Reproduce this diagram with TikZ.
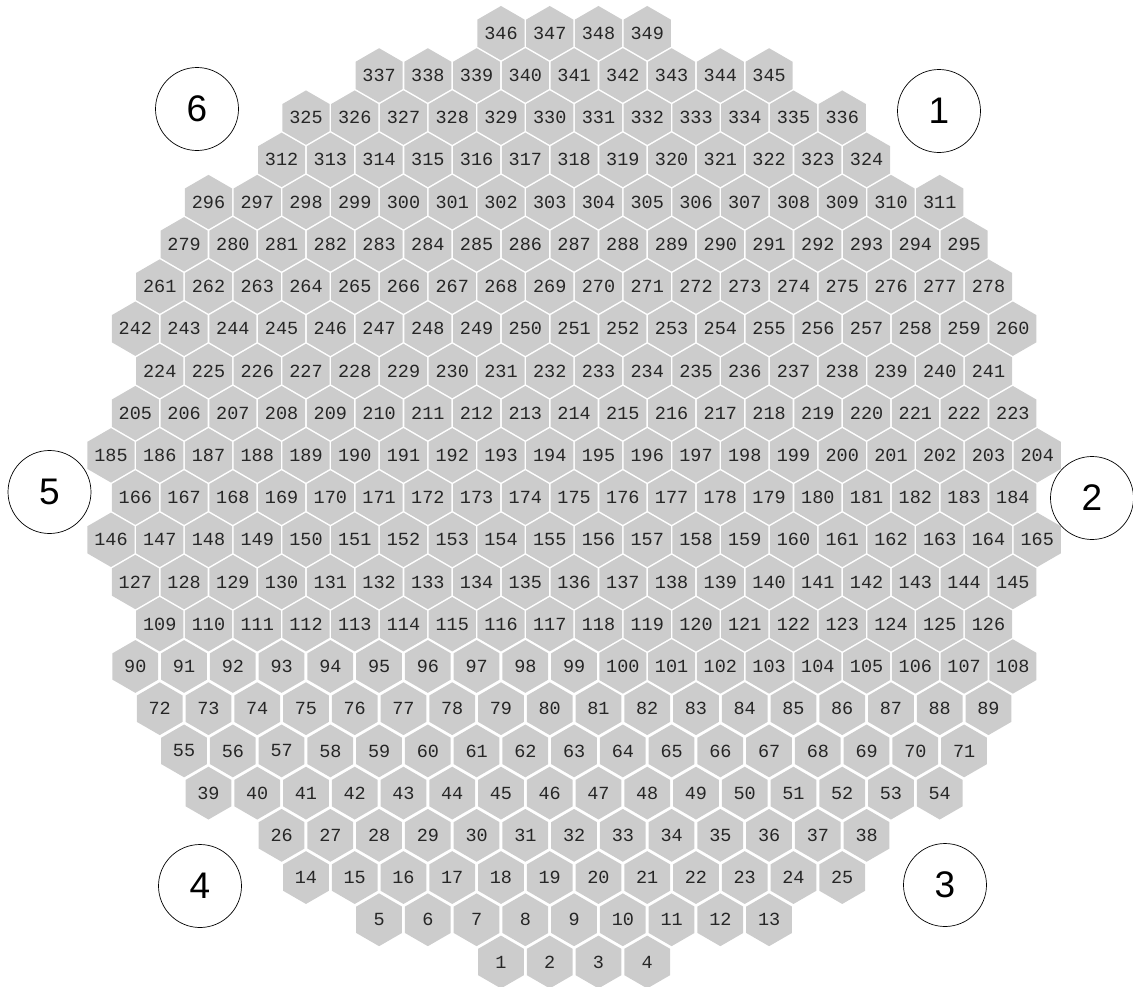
\documentclass[tikz,border=0pt]{standalone}
\usepackage{fontspec}
\newfontfamily\cellfont{Liberation Mono}
\newfontfamily\sectorfont{Liberation Sans}
\usetikzlibrary{shapes}
\definecolor{cellgray}{RGB}{204,204,204}

\begin{document}
\begin{tikzpicture}[x=1pt, y=-1pt,
  hexcell/.style={regular polygon, regular polygon sides=6, shape border rotate=30, fill=cellgray, text=black!85, inner sep=0pt, minimum size=52.8pt, font=\cellfont\fontsize{18.5}{18.5}\selectfont},
  sector/.style={draw, circle, line width=0.7pt, inner sep=0pt, minimum size=83pt, font=\sectorfont\fontsize{37}{37}\selectfont}]
\useasboundingbox (0,0) rectangle (1133,986);
% rows from the bottom: row / first number / count
\foreach \r/\first/\n in {1/1/4, 2/5/9, 3/14/12, 4/26/13, 5/39/16, 6/55/17, 7/72/18, 8/90/19, 9/109/18, 10/127/19, 11/146/20, 12/166/19, 13/185/20, 14/205/19, 15/224/18, 16/242/19, 17/261/18, 18/279/17, 19/296/16, 20/312/13, 21/325/12, 22/337/9, 23/346/4} {
  \foreach \i in {1,...,\n} {
    \pgfmathtruncatemacro{\k}{\first+\i-1}
    \node[hexcell] (h\k) at ({574.1+(\i-(\n+1)/2)*48.75}, {962-(\r-1)*42.22}) {\k};
  }
}
\node[sector] (s1) at (939,111) {1};
\node[sector] (s2) at (1092,498) {2};
\node[sector] (s3) at (945,885) {3};
\node[sector] (s4) at (200,886) {4};
\node[sector] (s5) at (49.5,492) {5};
\node[sector] (s6) at (197,109) {6};
\end{tikzpicture}
\end{document}
